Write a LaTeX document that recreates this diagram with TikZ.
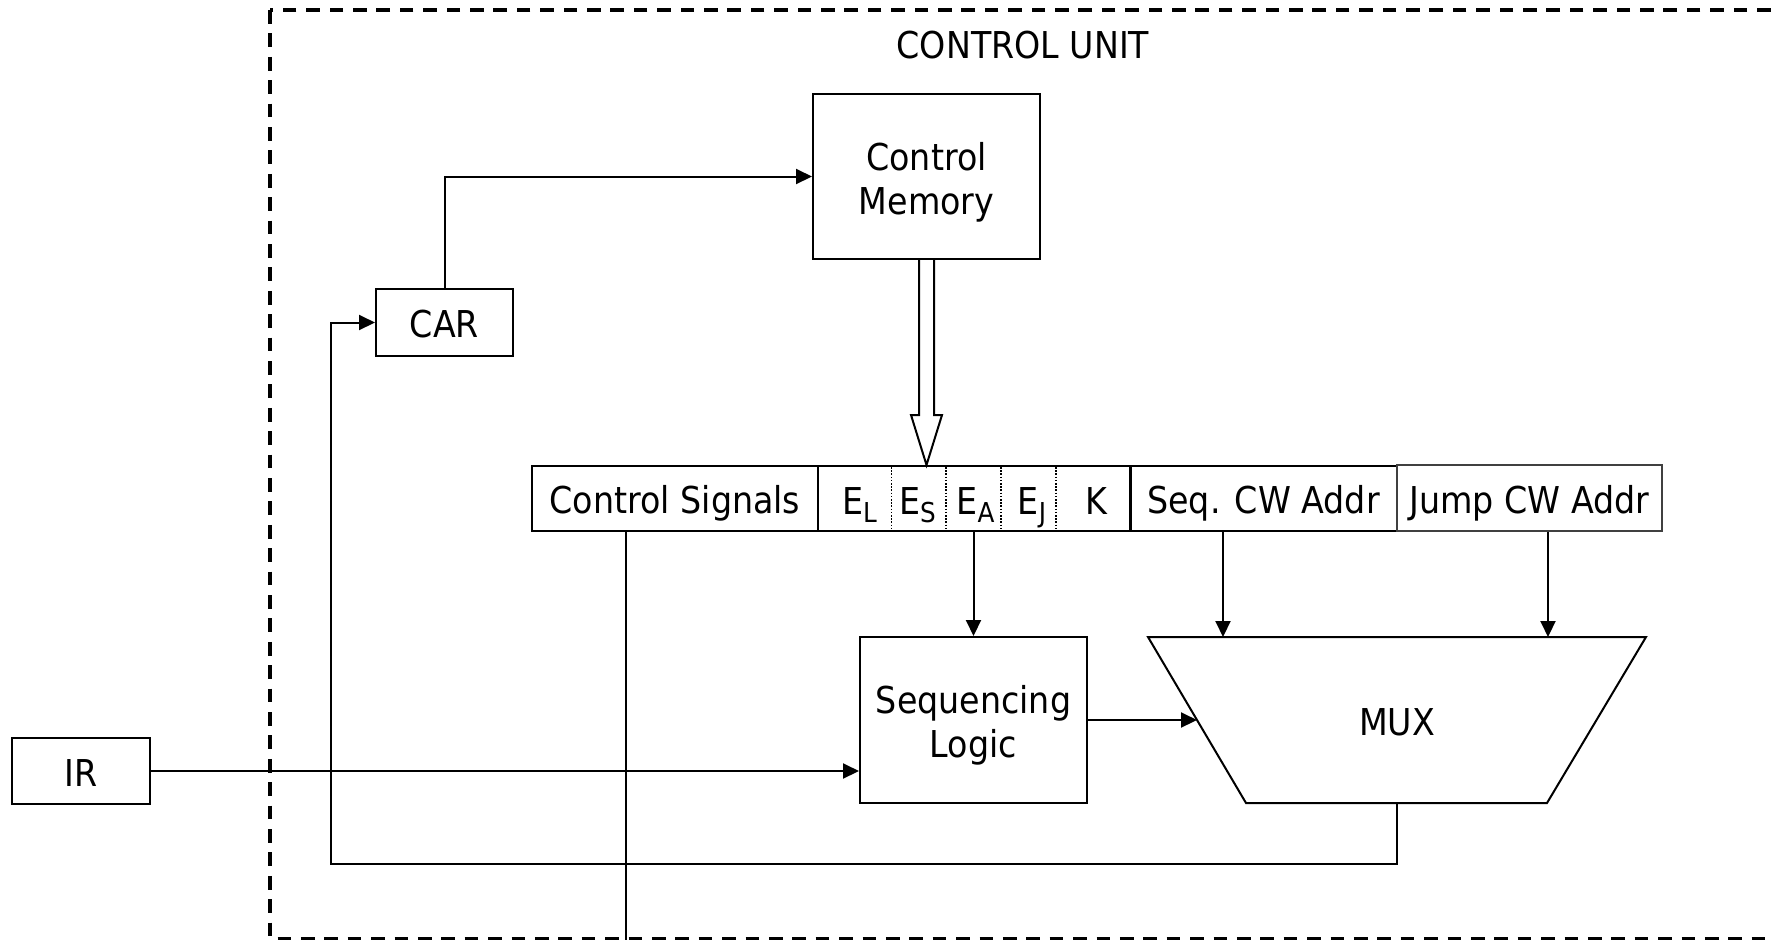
\documentclass[tikz,border=0pt]{standalone}
\usepackage{fontspec}
\setmainfont{DejaVu Sans}[FakeStretch=0.9]
\usetikzlibrary{arrows.meta,calc}
\newcommand\diagfont{\fontsize{18.5}{22}\selectfont}
\newcommand\sbs[1]{\raisebox{-4pt}{\fontsize{13.7}{13.7}\selectfont #1}}
\begin{document}
\begin{tikzpicture}[x=0.5pt,y=-0.5pt,
  txt/.style={inner sep=0pt,font=\diagfont,text height=15pt,text depth=0pt},
  box/.style={draw,line width=1pt,txt},
  twoline/.style={draw,line width=1pt,inner sep=0pt},
  field/.style={inner sep=0pt,font=\diagfont,anchor=base},
  wire/.style={line width=1pt},
  arr/.style={wire,-{Triangle[length=8pt,width=7.5pt]}},
  frame/.style={line width=1.6pt,dash pattern=on 6.85pt off 4.85pt},
  sep/.style={line width=0.7pt,dash pattern=on 0.8pt off 0.8pt}]
\useasboundingbox (0,0) rectangle (1773,939);
\clip (0,0) rectangle (1773,939);

% control unit frame
\draw[frame] (270,10) rectangle (1800,938.5);
\node[txt] (title) at (1023,43) {CONTROL UNIT};

% blocks
\node[twoline,minimum width=113.5pt,minimum height=82.5pt,
  label={[name=memtxt,align=center,font=\diagfont,yshift=-2.8pt]center:Control\\Memory}]
  (mem) at (926.5,176.5) {};
\node[box,minimum width=68.5pt,minimum height=33.5pt] (car) at (444.5,322.5) {CAR};
\node[box,minimum width=69pt,minimum height=33pt] (ir) at (81,771) {IR};
\node[twoline,minimum width=113.5pt,minimum height=83pt,
  label={[name=seqtxt,align=center,font=\diagfont,yshift=-2.8pt]center:Sequencing\\Logic}]
  (seq) at (973.5,720) {};

% control word
\node[box,minimum width=143pt,minimum height=32.5pt] (cs) at (675,498.5) {Control Signals};
\node[box,minimum width=156.5pt,minimum height=32.5pt] (eblk) at (974.5,498.5) {};
\node[box,minimum width=133.5pt,minimum height=32.5pt] (sa) at (1263.5,498.5) {Seq. CW Addr};
\node[box,draw=black!75,minimum width=132.5pt,minimum height=33pt] (ja) at (1529.5,498) {Jump CW Addr};
\node[field] (el) at (859.5,514) {E\sbs{L}};
\node[field] (es) at (917.5,514) {E\sbs{S}};
\node[field] (ea) at (975.5,514) {E\sbs{A}};
\node[field] (ej) at (1032,514) {E\sbs{J}};
\node[field] (k) at (1096,514) {K};
\foreach \x in {891.5,946,1001,1056}
  \draw[sep] (\x,467) -- (\x,530);

% multiplexer
\coordinate (mtl) at (1148,637);
\coordinate (mtr) at (1646,637);
\coordinate (mbr) at (1547,803);
\coordinate (mbl) at (1246,803);
\draw[wire] (mtl) -- (mtr) -- (mbr) -- (mbl) -- cycle;
\node[txt] (mux) at (1397,720) {MUX};
\coordinate (muxin) at ($(mtl)!0.5!(mbl)$);
\coordinate (muxout) at ($(mbl)!0.5!(mbr)$);
\coordinate (ina) at (1223,637);
\coordinate (inb) at (1548,637);
\coordinate (eaout) at (973.5,531);

% control word bus from memory
\draw[wire,fill=white] ($(mem.south)+(-7.5,0)$) -- ++(0,155) -- ++(-8,0)
  -- (mem.south |- eblk.north) -- ($(mem.south)+(15.5,155)$) -- ++(-8,0)
  -- ($(mem.south)+(7.5,0)$);

% connections
\draw[arr] (car.north) |- (mem.west);
\draw[arr] (eaout) -- (seq.north);
\draw[arr] (ina |- sa.south) -- (ina);
\draw[arr] (inb |- ja.south) -- (inb);
\draw[arr] (seq.east) -- (muxin);
\draw[arr] (ir.east) -- (ir.east -| seq.west);
\coordinate (fb) at (331,864);
\draw[arr] (muxout) |- (fb) |- (car.west);
\coordinate (csout) at (626,950);
\draw[wire] (csout |- cs.south) -- (csout);
\end{tikzpicture}
\end{document}
